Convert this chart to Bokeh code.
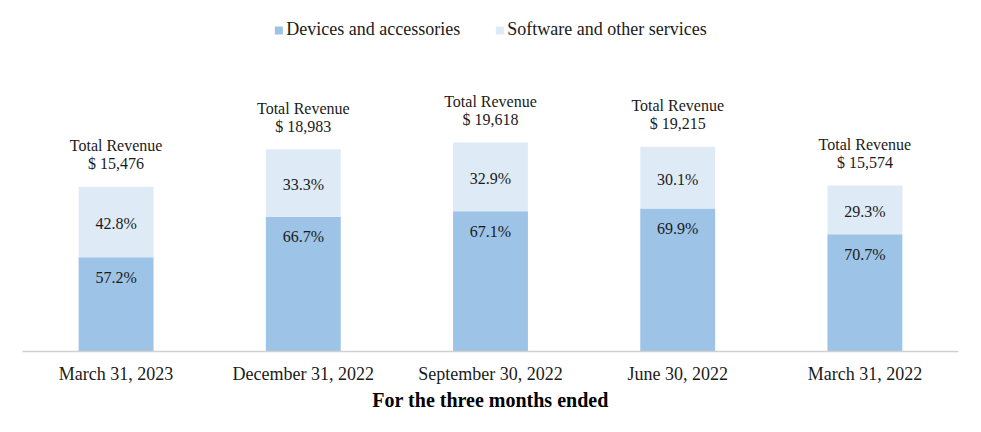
from bokeh.plotting import figure
from bokeh.models import ColumnDataSource, FactorRange, Range1d, Legend, LegendItem
from bokeh.core.properties import value
from bokeh.embed import file_html
from bokeh.resources import INLINE

quarters = ["March 31, 2023", "December 31, 2022", "September 30, 2022", "June 30, 2022", "March 31, 2022"]
total_revenue = [15476, 18983, 19618, 19215, 15574]
devices_pct = [57.2, 66.7, 67.1, 69.9, 70.7]
software_pct = [42.8, 33.3, 32.9, 30.1, 29.3]

FONT = "Liberation Serif"
DEV_COLOR = "#9DC3E6"
SW_COLOR = "#DEEBF7"
TXT = "#1a1a1a"

devices_val = [t * d / 100.0 for t, d in zip(total_revenue, devices_pct)]
src = ColumnDataSource(dict(
    q=quarters,
    total=total_revenue,
    dev=devices_val,
    dev_lbl=[f"{v:.1f}%" for v in devices_pct],
    sw_lbl=[f"{v:.1f}%" for v in software_pct],
    sw_mid=[(d + t) / 2.0 for d, t in zip(devices_val, total_revenue)],
    tr=["Total Revenue"] * len(quarters),
    amt=[f"$ {t:,}" for t in total_revenue],
))

p = figure(width=973, height=424, x_range=FactorRange(*quarters, range_padding=0),
           y_range=Range1d(0, 32200), output_backend="svg", toolbar_location=None,
           min_border_left=22, min_border_right=15, min_border_top=8, min_border_bottom=73)
p.outline_line_color = None
p.xgrid.grid_line_color = None
p.ygrid.grid_line_color = None
p.yaxis.visible = False

r_dev = p.vbar(x="q", top="dev", bottom=0, width=0.4, source=src,
               fill_color=DEV_COLOR, line_color=None)
r_sw = p.vbar(x="q", top="total", bottom="dev", width=0.4, source=src,
              fill_color=SW_COLOR, line_color=None)

# percentage labels
p.text(x="q", y="sw_mid", text="sw_lbl", source=src, text_font=value(FONT),
       text_font_size="16px", text_align="center", text_baseline="middle",
       text_color=TXT, y_offset=2)
p.text(x="q", y="dev", text="dev_lbl", source=src, text_font=value(FONT),
       text_font_size="16px", text_align="center", text_baseline="middle",
       text_color=TXT, y_offset=20)
# total revenue labels
p.text(x="q", y="total", text="tr", source=src, text_font=value(FONT),
       text_font_size="16px", text_align="center", text_baseline="middle",
       text_color=TXT, y_offset=-41)
p.text(x="q", y="total", text="amt", source=src, text_font=value(FONT),
       text_font_size="16px", text_align="center", text_baseline="middle",
       text_color=TXT, y_offset=-23)

ax = p.xaxis[0]
ax.axis_line_color = "#d0d0d0"
ax.axis_line_width = 1.5
ax.major_tick_line_color = None
ax.minor_tick_line_color = None
ax.major_tick_out = 0
ax.major_tick_in = 0
ax.major_label_standoff = 12
ax.major_label_text_font = FONT
ax.major_label_text_font_size = "18px"
ax.major_label_text_color = TXT
ax.axis_label = "For the three months ended"
ax.axis_label_text_font = FONT
ax.axis_label_text_font_size = "20px"
ax.axis_label_text_font_style = "bold"
ax.axis_label_text_color = "#000000"
ax.axis_label_standoff = 2

legend = Legend(items=[LegendItem(label="Devices and accessories", renderers=[r_dev]),
                       LegendItem(label="Software and other services", renderers=[r_sw])],
                location="top_center", orientation="horizontal",
                label_text_font=FONT, label_text_font_size="18px", label_text_color=TXT,
                glyph_width=10, glyph_height=10, label_standoff=3, spacing=34,
                border_line_color=None, background_fill_alpha=0,
                margin=11, padding=6)
p.add_layout(legend, "center")

open("out.html", "w").write(file_html(p, INLINE))
